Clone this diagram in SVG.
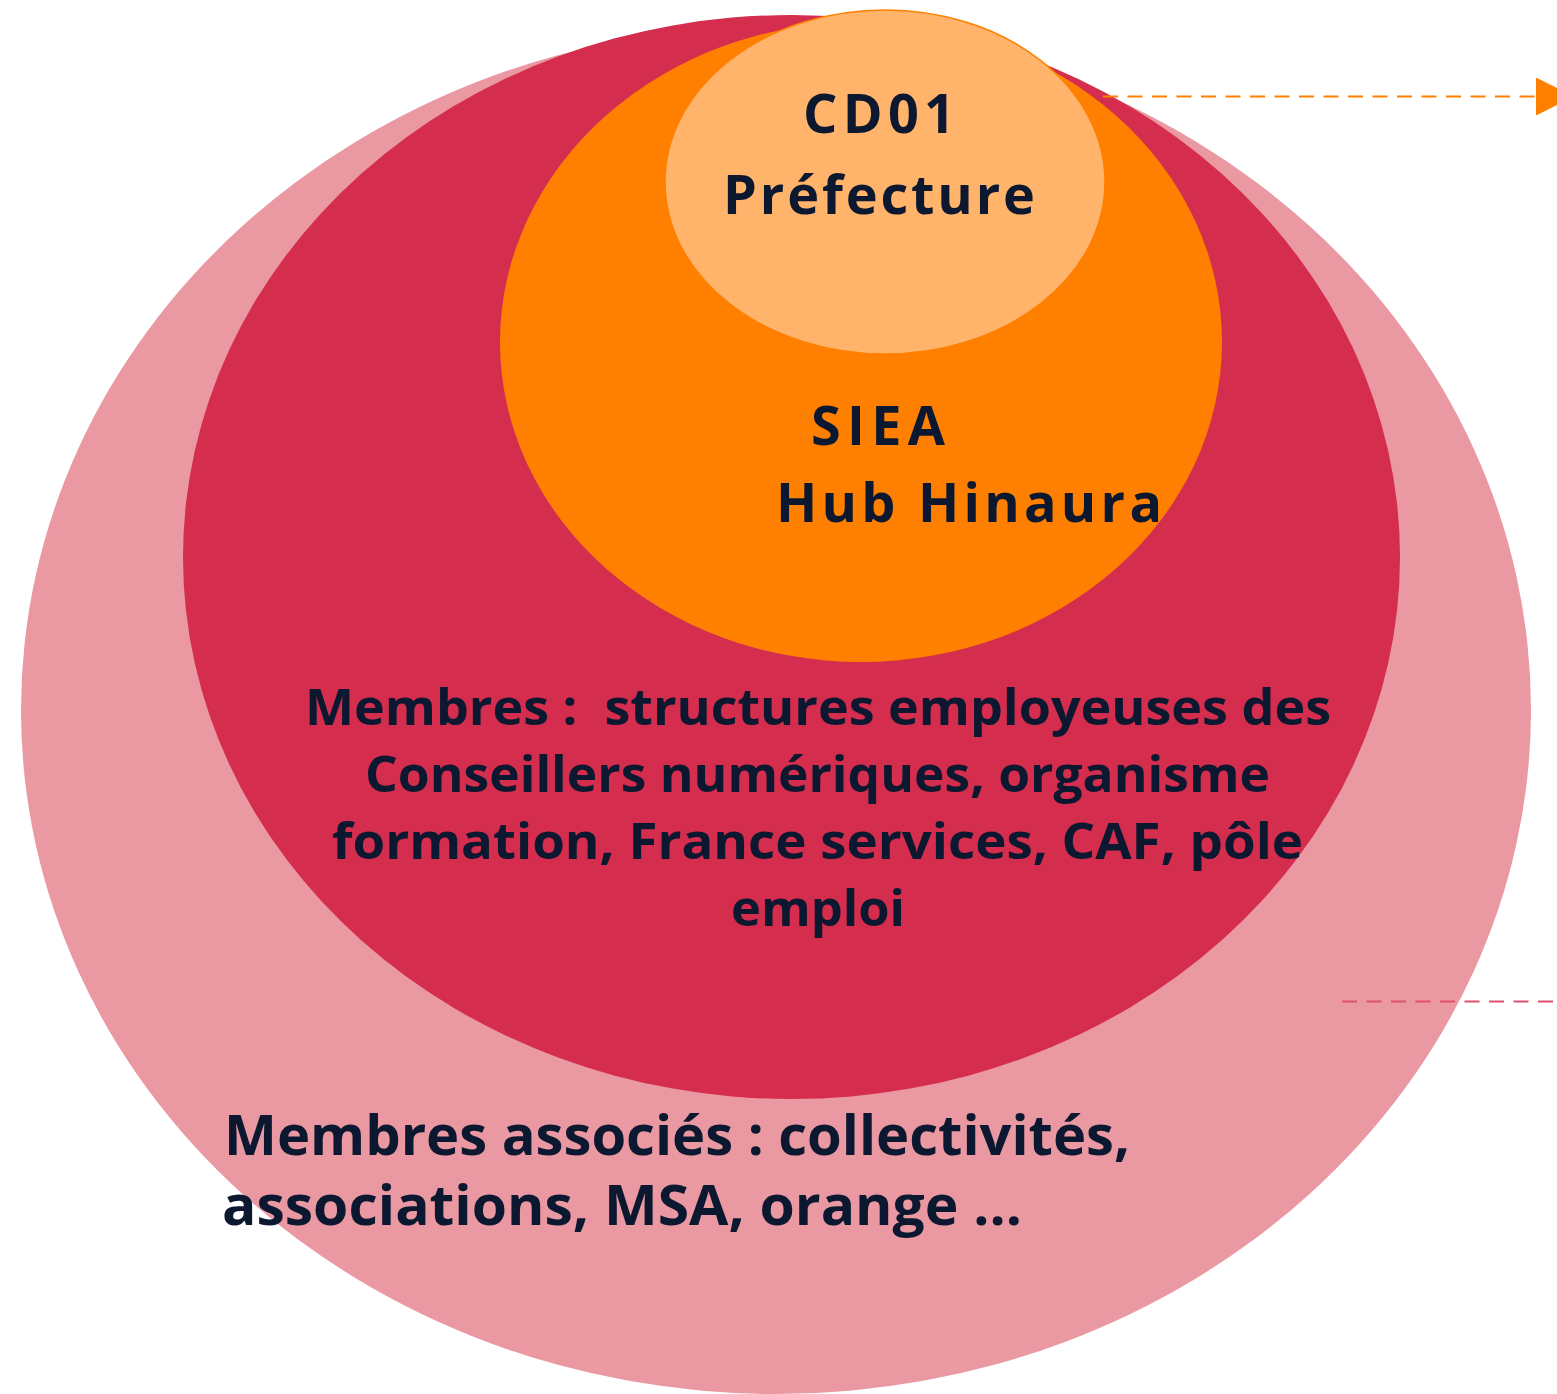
<svg xmlns="http://www.w3.org/2000/svg" width="1557" height="1394" viewBox="0 0 1557 1394">
<style>
.t{font-family:"Open Sans","Liberation Sans",sans-serif;font-weight:bold;fill:#0C1830}
.big{font-size:54px}
.mid{font-size:50px}
.pk{font-size:55px}
.dash{fill:none;stroke-width:2;stroke-dasharray:15 9.5}
</style>
<defs>
<marker id="arr" markerUnits="userSpaceOnUse" viewBox="0 0 38 38" refX="0" refY="19" markerWidth="38" markerHeight="38" orient="auto">
<path d="M0,0 L38,19 L0,38 Z" fill="#FF8000"/>
</marker>
</defs>
<rect width="1557" height="1394" fill="#FFFFFF"/>
<g id="associes">
<ellipse cx="776" cy="710" rx="755" ry="684" fill="#EA98A1"/>
</g>
<g id="membres">
<ellipse cx="791.5" cy="557" rx="608.5" ry="542" fill="#D42D4E"/>
</g>
<g id="siea">
<ellipse cx="861" cy="342" rx="361" ry="320" fill="#FF8000"/>
</g>
<g id="cd01">
<ellipse cx="885" cy="182" rx="220" ry="172" fill="#FFB36B" stroke="#FF8000" stroke-width="1.5"/>
</g>
<g id="connectors">
<line class="dash" x1="1103" y1="96.5" x2="1536" y2="96.5" stroke="#FF8000" marker-end="url(#arr)"/>
<line class="dash" x1="1342" y1="1001.5" x2="1557" y2="1001.5" stroke="#E0506E"/>
</g>
<g id="labels">
<text class="t big" x="803" y="133" textLength="152" lengthAdjust="spacing">CD01</text>
<text class="t big" x="723" y="214" textLength="312" lengthAdjust="spacing">Préfecture</text>
<text class="t big" x="811" y="445" textLength="134" lengthAdjust="spacing">SIEA</text>
<text class="t big" x="776" y="522" textLength="386" lengthAdjust="spacing">Hub Hinaura</text>
<text class="t mid" x="305" y="725" textLength="1026" lengthAdjust="spacingAndGlyphs" xml:space="preserve">Membres :  structures employeuses des</text>
<text class="t mid" x="365" y="792" textLength="905" lengthAdjust="spacingAndGlyphs">Conseillers numériques, organisme</text>
<text class="t mid" x="332" y="859" textLength="971" lengthAdjust="spacingAndGlyphs">formation, France services, CAF, pôle</text>
<text class="t mid" x="731" y="926" textLength="174" lengthAdjust="spacingAndGlyphs">emploi</text>
<text class="t pk" x="224" y="1155" textLength="906" lengthAdjust="spacingAndGlyphs">Membres associés : collectivités,</text>
<text class="t pk" x="222" y="1225" textLength="800" lengthAdjust="spacingAndGlyphs">associations, MSA, orange …</text>
</g>
</svg>
